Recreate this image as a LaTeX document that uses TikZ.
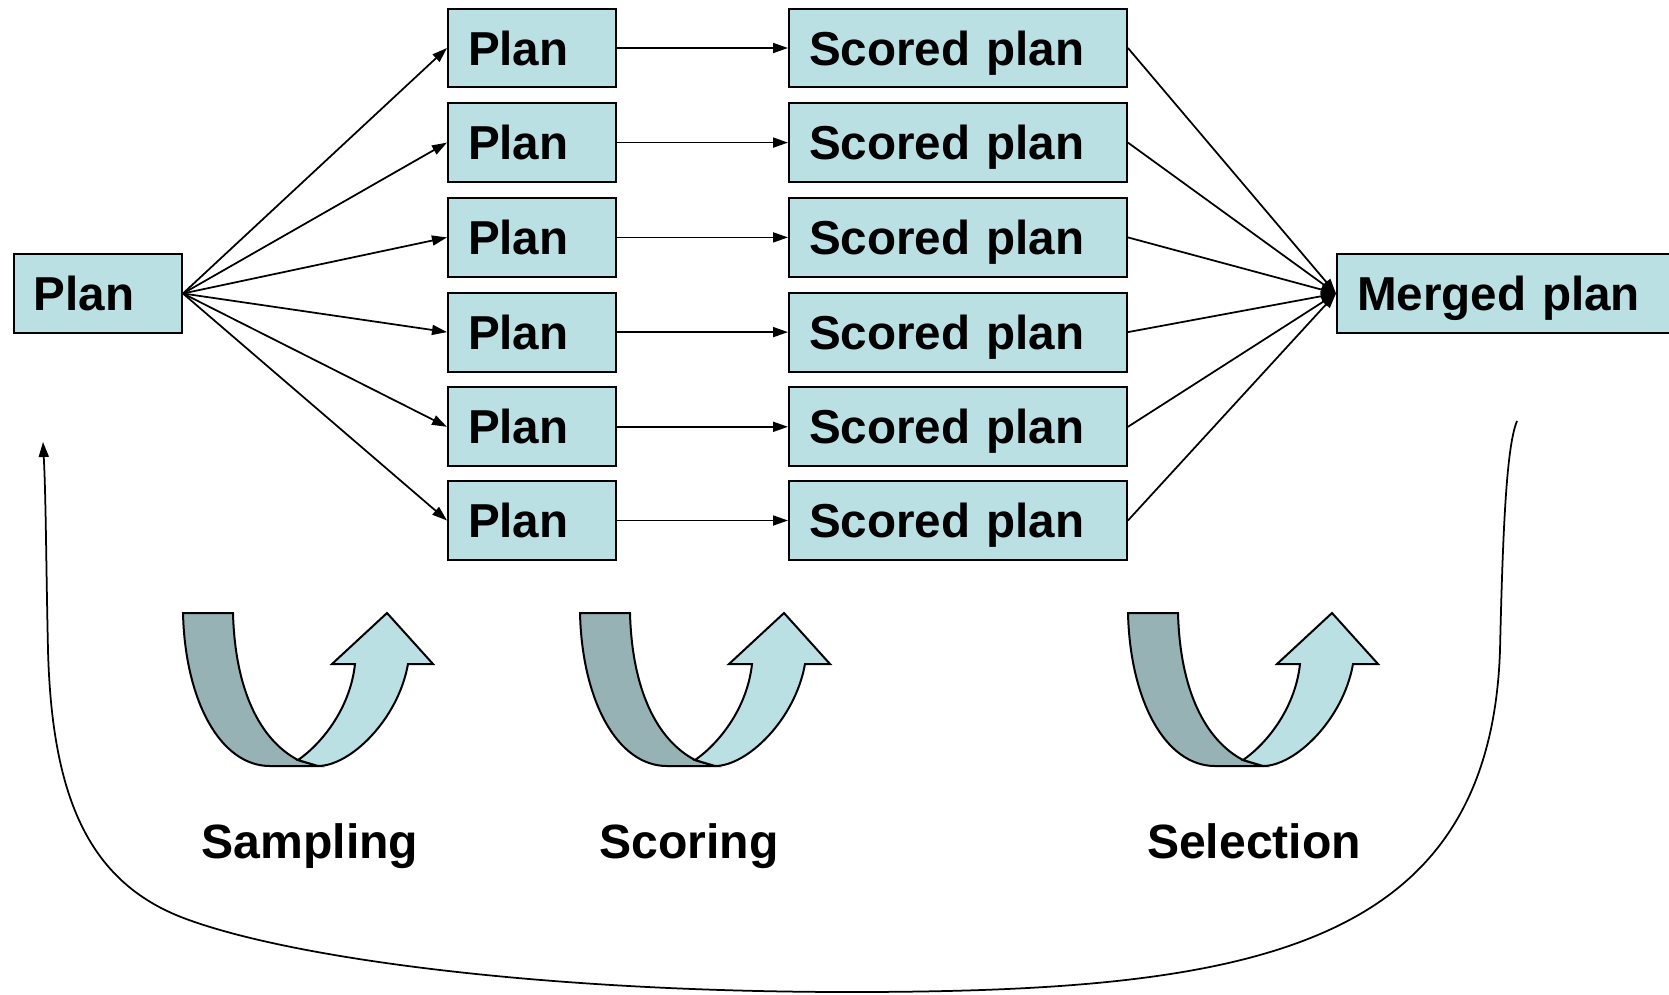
\documentclass[tikz,border=0pt]{standalone}
\usepackage{fontspec}
\setmainfont{Liberation Sans}
\usepackage{tikz}
\usetikzlibrary{arrows.meta}
\definecolor{planfill}{RGB}{187,224,227}
\definecolor{backfill}{RGB}{150,178,181}
\tikzset{
  box/.style={draw, fill=planfill, line width=0.04cm, anchor=west,
    minimum height=1.58cm, inner xsep=0.40cm, align=left,
    text height=19.4pt, text depth=0pt,
    font=\fontsize{27.1}{30}\selectfont\bfseries},
  planbox/.style={box, text width=2.56cm},
  scorebox/.style={box, text width=5.96cm},
  mergebox/.style={box, text width=6.2cm},
  steplabel/.style={anchor=base, font=\fontsize{27.4}{30}\selectfont\bfseries},
  flowarrow/.style={-{Triangle[length=0.3cm,width=0.2cm]}, line width=0.035cm},
  backarc/.style={-{Triangle[length=0.3cm,width=0.2cm]}, line width=0.035cm}
}
\newcommand{\uturn}[1]{%
  \begin{scope}[shift={(#1,0)}, line width=0.04cm]
    \filldraw[fill=backfill] (183,613) -- (233,613) .. controls (235,690) and (260,740) .. (298,760)
      -- (318,766) -- (270,766) .. controls (220,766) and (185,700) .. (183,613) -- cycle;
    \filldraw[fill=planfill] (298,760) .. controls (320,745) and (350,710) .. (355,664)
      -- (332,664) -- (387,613) -- (433,664) -- (408,664)
      .. controls (398,720) and (350,766) .. (318,766) -- cycle;
  \end{scope}}

\begin{document}
\begin{tikzpicture}[x=0.02cm, y=-0.02cm]
  \useasboundingbox (0,0) rectangle (1669,994);
  % input plan
  \node[planbox] (start) at (13,293.5) {Plan};
  % row 1
  \node[planbox] (plan1) at (447,48) {Plan};
  \node[scorebox] (score1) at (788,48) {Scored plan};
  % row 2
  \node[planbox] (plan2) at (447,142.6) {Plan};
  \node[scorebox] (score2) at (788,142.6) {Scored plan};
  % row 3
  \node[planbox] (plan3) at (447,237.4) {Plan};
  \node[scorebox] (score3) at (788,237.4) {Scored plan};
  % row 4
  \node[planbox] (plan4) at (447,332.1) {Plan};
  \node[scorebox] (score4) at (788,332.1) {Scored plan};
  % row 5
  \node[planbox] (plan5) at (447,426.8) {Plan};
  \node[scorebox] (score5) at (788,426.8) {Scored plan};
  % row 6
  \node[planbox] (plan6) at (447,520.5) {Plan};
  \node[scorebox] (score6) at (788,520.5) {Scored plan};
  % output plan
  \node[mergebox] (merged) at (1336,293.5) {Merged plan};
  % sampling
  \draw[flowarrow] (start.east) -- (plan1.west);
  \draw[flowarrow] (start.east) -- (plan2.west);
  \draw[flowarrow] (start.east) -- (plan3.west);
  \draw[flowarrow] (start.east) -- (plan4.west);
  \draw[flowarrow] (start.east) -- (plan5.west);
  \draw[flowarrow] (start.east) -- (plan6.west);
  % scoring
  \draw[flowarrow] (plan1.east) -- (score1.west);
  \draw[flowarrow] (plan2.east) -- (score2.west);
  \draw[flowarrow] (plan3.east) -- (score3.west);
  \draw[flowarrow] (plan4.east) -- (score4.west);
  \draw[flowarrow] (plan5.east) -- (score5.west);
  \draw[flowarrow] (plan6.east) -- (score6.west);
  % selection
  \draw[flowarrow] (score1.east) -- (merged.west);
  \draw[flowarrow] (score2.east) -- (merged.west);
  \draw[flowarrow] (score3.east) -- (merged.west);
  \draw[flowarrow] (score4.east) -- (merged.west);
  \draw[flowarrow] (score5.east) -- (merged.west);
  \draw[flowarrow] (score6.east) -- (merged.west);
  % step arrows
  \uturn{0}
  \uturn{397}
  \uturn{945}
  \node[steplabel] (sampling) at (310,858) {Sampling};
  \node[steplabel] (scoring) at (689,858) {Scoring};
  \node[steplabel] (selection) at (1254,858) {Selection};
  % feedback
  \coordinate (loopstart) at (1517,421);
  \coordinate (loopend) at (43,442);
  \draw[backarc] (loopstart) .. controls (1507,445) and (1503,520) .. (1500,650)
    .. controls (1490,950) and (1250,992) .. (850,992)
    .. controls (550,992) and (300,960) .. (189,920)
    .. controls (90,885) and (52,800) .. (48,650)
    .. controls (46,560) and (46,500) .. (loopend);
\end{tikzpicture}
\end{document}
